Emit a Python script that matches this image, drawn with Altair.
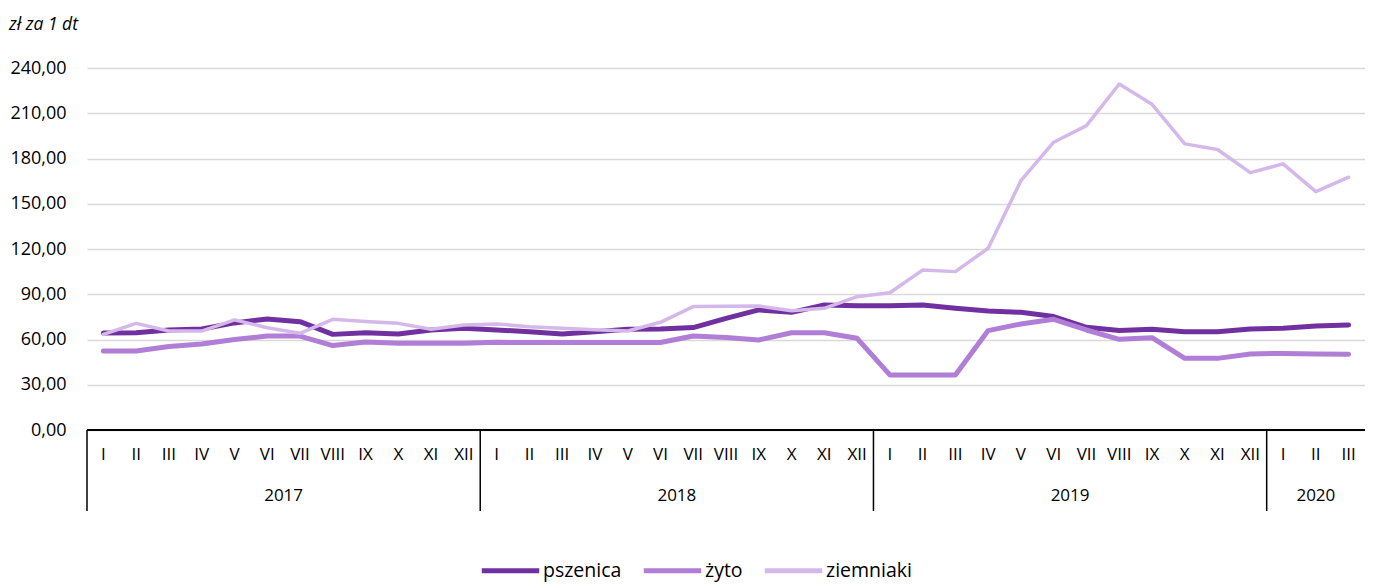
import altair as alt
import pandas as pd

months = ["I","II","III","IV","V","VI","VII","VIII","IX","X","XI","XII"] * 3 + ["I","II","III"]
years = ["2017", "2018", "2019", "2020"]
year_centers = [5.5, 17.5, 29.5, 37.0]
separators = [-0.5, 11.5, 23.5, 35.5]

pszenica = [64.3,64.5,66.3,67.0,71.0,73.6,71.8,63.4,64.5,63.7,66.3,67.4,
            66.3,65.2,63.7,65.2,66.8,67.0,67.9,74.0,79.6,78.0,82.9,82.4,
            82.4,82.9,80.7,78.9,78.0,75.2,68.1,65.9,66.8,65.2,65.2,67.0,
            67.4,69.0,69.6]
zyto = [52.4,52.4,55.3,57.0,60.0,62.3,62.3,56.0,58.4,57.5,57.5,57.5,
        58.1,58.0,58.0,58.0,58.0,58.0,62.3,61.4,59.7,64.5,64.5,60.8,
        36.5,36.5,36.5,65.9,70.3,73.4,66.3,60.1,61.2,47.5,47.5,50.4,
        50.8,50.4,50.2]
ziemniaki = [63.4,70.7,65.6,65.6,73.0,67.8,64.1,73.4,72.0,70.7,66.8,69.6,
             70.3,68.5,67.5,66.5,65.6,71.4,81.8,82.0,82.2,79.0,80.7,88.4,
             91.0,106.0,105.0,120.5,165.3,190.8,201.8,229.4,215.9,189.7,186.0,170.6,
             176.4,158.0,167.6]

series_names = ["pszenica", "żyto", "ziemniaki"]
series_colors = ["#7030A0", "#B07ED6", "#D5B8EA"]
series_widths = [5, 5, 3.5]

FONT = "Open Sans"
W, H = 1278, 362

xscale = alt.Scale(domain=[-0.5, 38.5], nice=False, zero=False)
yscale = alt.Scale(domain=[0, 240], nice=False)
cscale = alt.Scale(domain=series_names, range=series_colors)

yaxis = alt.Axis(values=list(range(0, 241, 30)), title=None, domain=False, ticks=False,
                 grid=True, gridColor="#d9d9d9", gridWidth=1.5,
                 labelExpr="replace(format(datum.value, '.2f'), '.', ',')",
                 labelFont=FONT, labelFontSize=18, labelColor="#000000", labelPadding=21)

legend = alt.Legend(title=None, orient="none", legendX=392, legendY=471,
                    direction="horizontal", symbolType="stroke", symbolSize=3300,
                    symbolStrokeWidth=5,
                    labelFont=FONT, labelFontSize=19.5, labelColor="#000000",
                    labelOffset=1, columnPadding=11)

line_layers = []
for k, (name, vals) in enumerate(zip(series_names, [pszenica, zyto, ziemniaki])):
    d = pd.DataFrame({"idx": list(range(len(vals))), "value": vals, "seria": [name] * len(vals)})
    line_layers.append(
        alt.Chart(d).mark_line(strokeWidth=series_widths[k], strokeCap="round", strokeJoin="round").encode(
            x=alt.X("idx:Q", scale=xscale, axis=None),
            y=alt.Y("value:Q", scale=yscale, axis=yaxis),
            color=alt.Color("seria:N", scale=cscale, legend=legend),
        )
    )

axis_line = alt.Chart(pd.DataFrame({"v": [0]})).mark_rule(color="#000000", strokeWidth=2).encode(
    y=alt.Y("v:Q", scale=yscale, axis=yaxis),
    x=alt.value(0), x2=alt.value(W),
)

sep_df = pd.DataFrame({"pos": separators})
seps = alt.Chart(sep_df).mark_rule(color="#000000", strokeWidth=1.5).encode(
    x=alt.X("pos:Q", scale=xscale, axis=None),
    y=alt.value(H), y2=alt.value(H + 81),
)

month_df = pd.DataFrame({"idx": list(range(len(months))), "m": months})
month_text = alt.Chart(month_df).mark_text(font=FONT, fontSize=17, color="#000000", baseline="middle").encode(
    x=alt.X("idx:Q", scale=xscale, axis=None),
    y=alt.value(H + 25),
    text="m:N",
)

year_df = pd.DataFrame({"pos": year_centers, "yr": years})
year_text = alt.Chart(year_df).mark_text(font=FONT, fontSize=17, color="#000000", baseline="middle").encode(
    x=alt.X("pos:Q", scale=xscale, axis=None),
    y=alt.value(H + 66),
    text="yr:N",
)

unit_df = pd.DataFrame({"t": ["zł za 1 dt"]})
unit_text = alt.Chart(unit_df).mark_text(font=FONT, fontSize=17.5, fontStyle="italic", color="#000000",
                                         align="left", baseline="middle").encode(
    x=alt.value(-78), y=alt.value(-43), text="t:N",
)

chart = alt.layer(axis_line, *line_layers, seps, month_text, year_text, unit_text).properties(
    width=W, height=H,
    autosize=alt.AutoSizeParams(type="none"),
    padding={"left": 79, "top": 60, "right": 0, "bottom": 152},
    background="#ffffff",
).configure_view(stroke=None)

chart.save("out.html", embed_options={"renderer": "svg", "actions": False})
